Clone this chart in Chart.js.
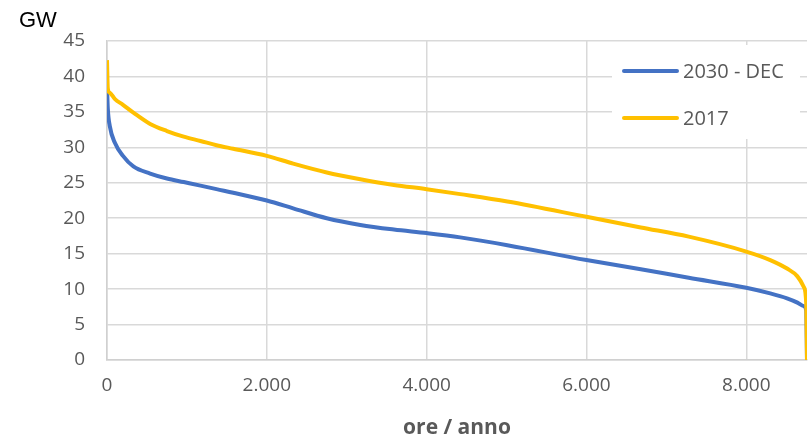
<!DOCTYPE html>
<html>
<head>
<meta charset="utf-8">
<script src="https://cdn.jsdelivr.net/npm/chart.js@4.4.1/dist/chart.umd.min.js"></script>
<style>
  html, body { margin: 0; padding: 0; background: #fff; }
  #wrap { width: 810px; height: 442px; position: relative; }
</style>
</head>
<body>
<div id="wrap"><canvas id="chart" width="810" height="442"></canvas></div>
<script>
// hours of the year (duration curve), shared by both series
const hours = [0, 10, 35, 100, 200, 330, 540, 750, 960, 1170, 1370, 1580, 2000, 2330, 2750,
  3170, 3590, 4000, 4420, 5010, 6000, 6680, 7280, 8000, 8300, 8510, 8640, 8720, 8750, 8760];

const dec2030 = [38.6, 35.5, 33.0, 30.6, 28.8, 27.3, 26.3, 25.6, 25.1, 24.6, 24.1, 23.6, 22.5, 21.4, 20.0,
  19.05, 18.4, 17.9, 17.3, 16.2, 14.1, 12.8, 11.6, 10.2, 9.4, 8.7, 8.1, 7.6, 7.0, 0];

const y2017 = [42.3, 38.3, 37.7, 36.8, 36.0, 34.9, 33.3, 32.3, 31.5, 30.9, 30.3, 29.8, 28.8, 27.7, 26.45,
  25.5, 24.7, 24.1, 23.4, 22.35, 20.2, 18.7, 17.4, 15.3, 14.1, 12.9, 11.8, 10.3, 8.0, 0];

const xTicks = [0, 2000, 4000, 6000, 8000];

const seriesLabels = ['2030 - DEC', '2017'];
const seriesColors = ['#4472c4', '#ffc000'];

const toPoints = (vals) => hours.map((h, i) => ({ x: h, y: vals[i] }));

// thousands with a dot, italian style
const fmtIt = (v) => String(v).replace(/\B(?=(\d{3})+(?!\d))/g, '.');

const textGrey = '#595959';

// legend box inside the plot + "GW" unit label
const extras = {
  id: 'extras',
  afterDraw(chart) {
    const ctx = chart.ctx;
    ctx.save();
    ctx.fillStyle = '#fff';
    ctx.fillRect(612, 45, 188, 94);

    const rows = [71, 118];
    ctx.font = '20px "Open Sans", sans-serif';
    ctx.textBaseline = 'middle';
    ctx.textAlign = 'left';
    rows.forEach((y, i) => {
      ctx.strokeStyle = seriesColors[i];
      ctx.lineWidth = 4;
      ctx.lineCap = 'round';
      ctx.beginPath();
      ctx.moveTo(624, y);
      ctx.lineTo(677, y);
      ctx.stroke();
      ctx.fillStyle = textGrey;
      ctx.fillText(seriesLabels[i], 683, y + 1);
    });

    ctx.fillStyle = '#000';
    ctx.font = '22px "Liberation Sans", Arial, sans-serif';
    ctx.textBaseline = 'alphabetic';
    ctx.fillText('GW', 19, 27);
    ctx.restore();
  }
};

new Chart(document.getElementById('chart'), {
  type: 'line',
  data: {
    datasets: [
      {
        label: seriesLabels[0],
        data: toPoints(dec2030),
        borderColor: seriesColors[0],
        backgroundColor: seriesColors[0],
        borderWidth: 4,
        pointRadius: 0,
        cubicInterpolationMode: 'monotone',
        order: 1
      },
      {
        label: seriesLabels[1],
        data: toPoints(y2017),
        borderColor: seriesColors[1],
        backgroundColor: seriesColors[1],
        borderWidth: 4,
        pointRadius: 0,
        cubicInterpolationMode: 'monotone',
        order: 0
      }
    ]
  },
  options: {
    responsive: false,
    animation: false,
    devicePixelRatio: 1,
    layout: { padding: { left: 0, right: 3, top: 41, bottom: 0 } },
    plugins: {
      legend: { display: false },
      tooltip: { enabled: false }
    },
    scales: {
      x: {
        type: 'linear',
        min: 0,
        max: 8760,
        afterBuildTicks(scale) { scale.ticks = xTicks.map((v) => ({ value: v })); },
        afterFit(scale) { scale.height = 82; },
        ticks: {
          padding: 14,
          color: textGrey,
          font: { family: '"Open Sans", sans-serif', size: 19 },
          maxRotation: 0,
          autoSkip: false,
          callback: (v) => fmtIt(v)
        },
        grid: { color: '#d9d9d9', lineWidth: 1.5, drawTicks: false },
        border: { color: '#d0d0d0', width: 1.5 },
        title: {
          display: true,
          text: 'ore / anno',
          color: textGrey,
          font: { family: '"Open Sans", sans-serif', size: 21, weight: 'bold' },
          padding: { top: 0, bottom: 1 }
        }
      },
      y: {
        min: 0,
        max: 45,
        afterFit(scale) { scale.width = 107; },
        ticks: {
          stepSize: 5,
          padding: 22,
          color: textGrey,
          font: { family: '"Open Sans", sans-serif', size: 19 }
        },
        grid: { color: '#d9d9d9', lineWidth: 1.5, drawTicks: false },
        border: { color: '#d0d0d0', width: 1.5 }
      }
    }
  },
  plugins: [extras]
});
</script>
</body>
</html>
